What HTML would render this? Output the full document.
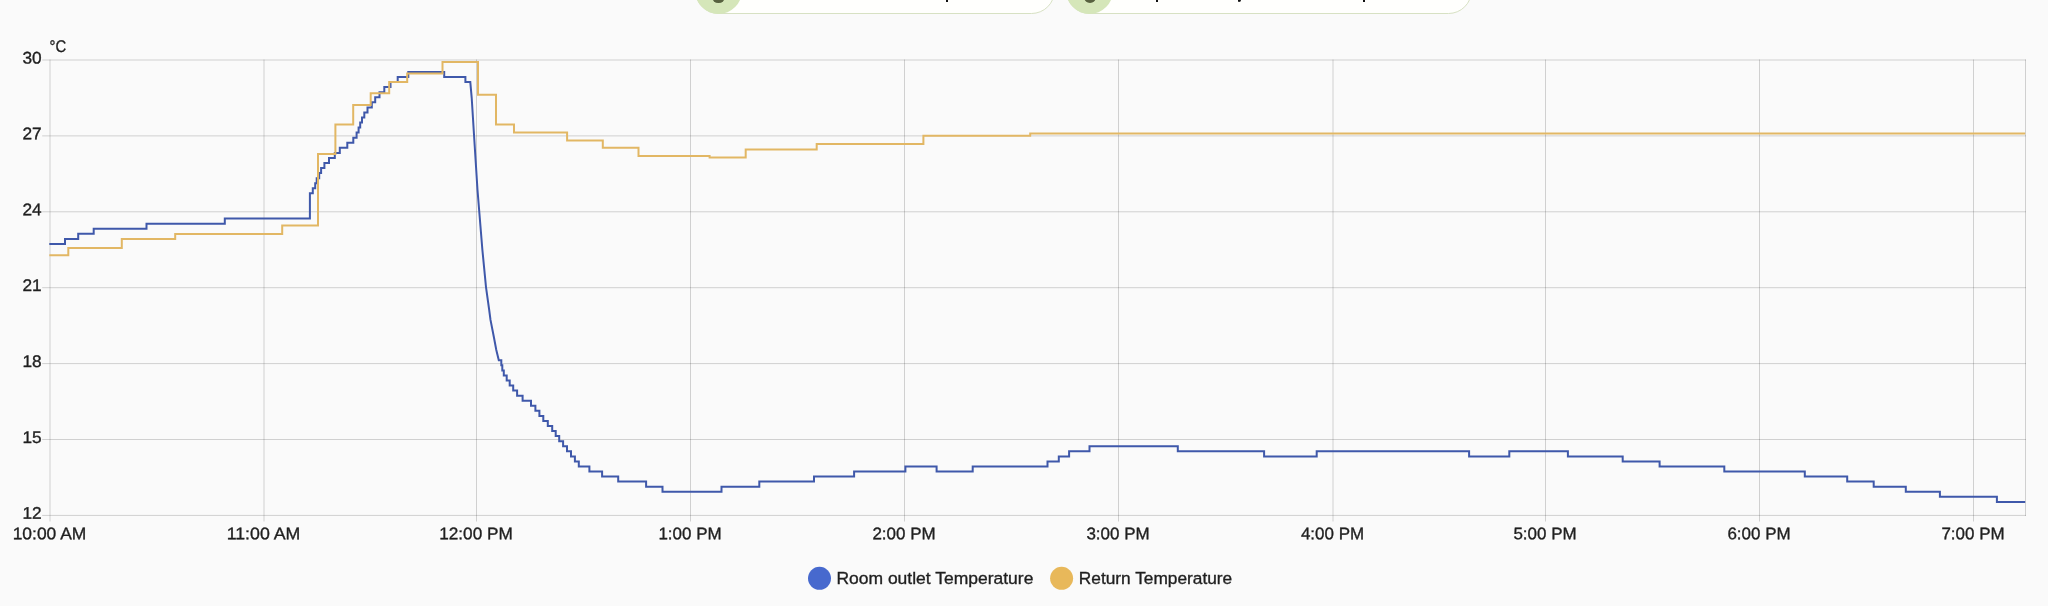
<!DOCTYPE html>
<html>
<head>
<meta charset="utf-8">
<title>History</title>
<style>
html, body { margin: 0; padding: 0; }
body { width: 2048px; height: 606px; background: #fafafa; overflow: hidden; position: relative;
  font-family: "Liberation Sans", sans-serif; }
svg { position: absolute; left: 0; top: 0; display: block; will-change: transform; }
text { font-family: "Liberation Sans", sans-serif; font-size: 16.8px; fill: #1f1f1f; stroke: #1f1f1f; stroke-width: 0.35px; }
.chip { position: absolute; top: -33px; height: 47.1px; border: 1.3px solid #d7e1c3; border-radius: 23.6px;
  background: #fffffd; box-sizing: border-box; }
.chip .ic { position: absolute; left: -1.3px; top: -1.3px; width: 47.1px; height: 47.1px; border-radius: 50%; background: #d5e6b9; }
.chip .ic i { position: absolute; left: 17.8px; top: 23.4px; width: 12.6px; height: 12.6px; border-radius: 50%; background: #57613f; }
.d { position: absolute; top: 0; height: 1.6px; background: #111; }
</style>
</head>
<body>
<div class="chip" style="left:694.8px; width:360.3px;"><div class="ic"><i></i></div></div>
<div class="chip" style="left:1066.1px; width:405.5px;"><div class="ic"><i></i></div></div>
<div class="d" style="left:946px; width:2px;"></div>
<div class="d" style="left:1155.5px; width:2px;"></div>
<div class="d" style="left:1237.5px; width:3.3px; height:1.8px; border-radius:0 0 2px 1px;"></div>
<div class="d" style="left:1363.3px; width:2px;"></div>
<svg width="2048" height="606" viewBox="0 0 2048 606">
<g stroke="#000" stroke-opacity="0.17" stroke-width="1" fill="none">
<line x1="50.0" y1="59.5" x2="50.0" y2="521.5"/>
<line x1="264.0" y1="59.5" x2="264.0" y2="521.5"/>
<line x1="476.5" y1="59.5" x2="476.5" y2="521.5"/>
<line x1="690.5" y1="59.5" x2="690.5" y2="521.5"/>
<line x1="904.5" y1="59.5" x2="904.5" y2="521.5"/>
<line x1="1118.5" y1="59.5" x2="1118.5" y2="521.5"/>
<line x1="1333.0" y1="59.5" x2="1333.0" y2="521.5"/>
<line x1="1545.5" y1="59.5" x2="1545.5" y2="521.5"/>
<line x1="1759.5" y1="59.5" x2="1759.5" y2="521.5"/>
<line x1="1973.5" y1="59.5" x2="1973.5" y2="521.5"/>
<line x1="2025.5" y1="59.5" x2="2025.5" y2="515.9"/>
<line x1="42.2" y1="60.0" x2="2026.0" y2="60.0"/>
<line x1="42.2" y1="135.9" x2="2026.0" y2="135.9"/>
<line x1="42.2" y1="211.8" x2="2026.0" y2="211.8"/>
<line x1="42.2" y1="287.7" x2="2026.0" y2="287.7"/>
<line x1="42.2" y1="363.6" x2="2026.0" y2="363.6"/>
<line x1="42.2" y1="439.5" x2="2026.0" y2="439.5"/>
<line x1="42.2" y1="515.4" x2="2026.0" y2="515.4"/>
</g>
<path d="M49.3 243.9 L65.0 243.9 L65.0 238.9 L78.2 238.9 L78.2 233.8 L93.7 233.8 L93.7 228.7 L146.5 228.7 L146.5 223.7 L224.8 223.7 L224.8 218.6 L309.9 218.6 L309.9 193.3 L312.8 193.3 L312.8 188.3 L315.2 188.3 L315.2 183.2 L316.7 183.2 L316.7 178.2 L319.2 178.2 L319.2 173.1 L321.1 173.1 L321.1 168.0 L324.4 168.0 L324.4 163.0 L329.0 163.0 L329.0 157.9 L334.8 157.9 L334.8 152.9 L339.8 152.9 L339.8 147.8 L347.3 147.8 L347.3 142.8 L353.3 142.8 L353.3 137.7 L356.6 137.7 L356.6 132.6 L358.6 132.6 L358.6 127.6 L360.2 127.6 L360.2 122.5 L362.0 122.5 L362.0 117.5 L364.3 117.5 L364.3 112.4 L367.5 112.4 L367.5 107.4 L371.8 107.4 L371.8 102.3 L375.2 102.3 L375.2 97.2 L379.5 97.2 L379.5 92.2 L384.3 92.2 L384.3 87.1 L390.5 87.1 L390.5 82.1 L397.7 82.1 L397.7 77.0 L408.3 77.0 L408.3 71.9 L444.2 71.9 L444.2 77.0 L465.4 77.0 L465.4 82.1 L470.3 82.1 L471.7 97.8 L473.7 130.0 L477.5 190.0 L482.4 250.0 L486.0 287.1 L489.2 310.0 L490.5 319.9 L494.0 337.7 L496.3 350.0 L498.8 360.3 L498.8 360.3 L501.3 360.3 L501.3 365.3 L502.3 365.3 L502.3 370.4 L503.8 370.4 L503.8 375.4 L506.7 375.4 L506.7 380.5 L509.7 380.5 L509.7 385.5 L513.2 385.5 L513.2 390.6 L517.1 390.6 L517.1 395.7 L522.6 395.7 L522.6 400.7 L531.0 400.7 L531.0 405.8 L535.4 405.8 L535.4 410.8 L539.4 410.8 L539.4 415.9 L543.3 415.9 L543.3 420.9 L547.8 420.9 L547.8 426.0 L552.2 426.0 L552.2 431.1 L555.7 431.1 L555.7 436.1 L559.2 436.1 L559.2 441.2 L563.1 441.2 L563.1 446.2 L567.0 446.2 L567.0 451.3 L571.0 451.3 L571.0 456.4 L574.9 456.4 L574.9 461.4 L578.8 461.4 L578.8 466.5 L589.4 466.5 L589.4 471.5 L602.1 471.5 L602.1 476.6 L618.2 476.6 L618.2 481.6 L646.1 481.6 L646.1 486.7 L662.5 486.7 L662.5 491.8 L721.5 491.8 L721.5 486.7 L759.3 486.7 L759.3 481.6 L814.0 481.6 L814.0 476.6 L854.1 476.6 L854.1 471.5 L905.4 471.5 L905.4 466.5 L936.6 466.5 L936.6 471.5 L972.7 471.5 L972.7 466.5 L1047.5 466.5 L1047.5 461.4 L1058.8 461.4 L1058.8 456.4 L1069.1 456.4 L1069.1 451.3 L1089.5 451.3 L1089.5 446.2 L1177.8 446.2 L1177.8 451.3 L1264.1 451.3 L1264.1 456.4 L1316.7 456.4 L1316.7 451.3 L1469.1 451.3 L1469.1 456.4 L1509.3 456.4 L1509.3 451.3 L1567.9 451.3 L1567.9 456.4 L1622.7 456.4 L1622.7 461.4 L1659.6 461.4 L1659.6 466.5 L1724.3 466.5 L1724.3 471.5 L1804.8 471.5 L1804.8 476.6 L1847.2 476.6 L1847.2 481.6 L1873.7 481.6 L1873.7 486.7 L1905.8 486.7 L1905.8 491.8 L1939.9 491.8 L1939.9 496.8 L1996.9 496.8 L1996.9 501.9 L2025.2 501.9" fill="none" stroke="#3f58aa" stroke-width="2" stroke-linejoin="miter"/>
<path d="M49.3 255.2 L68.3 255.2 L68.3 247.9 L121.8 247.9 L121.8 239.0 L175.2 239.0 L175.2 233.9 L282.2 233.9 L282.2 225.5 L318.0 225.5 L318.0 154.1 L335.4 154.1 L335.4 124.6 L353.2 124.6 L353.2 104.9 L370.7 104.9 L370.7 93.3 L389.2 93.3 L389.2 82.1 L407.2 82.1 L407.2 73.6 L442.5 73.6 L442.5 62.1 L478.0 62.1 L478.0 94.7 L496.0 94.7 L496.0 124.5 L514.0 124.5 L514.0 132.6 L567.1 132.6 L567.1 140.6 L602.8 140.6 L602.8 147.8 L638.5 147.8 L638.5 156.1 L709.6 156.1 L709.6 157.6 L745.7 157.6 L745.7 149.4 L816.7 149.4 L816.7 144.0 L923.4 144.0 L923.4 135.7 L1030.2 135.7 L1030.2 133.4 L2025.2 133.4" fill="none" stroke="#e2b764" stroke-width="2" stroke-linejoin="miter"/>
<g>
<text x="49.6" y="52" transform="rotate(0.03 49.6 52)" textLength="16.6" lengthAdjust="spacingAndGlyphs">°C</text>
<text x="41.6" y="63.4" transform="rotate(0.03 41.6 63.4)" text-anchor="end" textLength="19.2" lengthAdjust="spacingAndGlyphs">30</text>
<text x="41.6" y="139.3" transform="rotate(0.03 41.6 139.3)" text-anchor="end" textLength="19.2" lengthAdjust="spacingAndGlyphs">27</text>
<text x="41.6" y="215.2" transform="rotate(0.03 41.6 215.2)" text-anchor="end" textLength="19.2" lengthAdjust="spacingAndGlyphs">24</text>
<text x="41.6" y="291.1" transform="rotate(0.03 41.6 291.1)" text-anchor="end" textLength="19.2" lengthAdjust="spacingAndGlyphs">21</text>
<text x="41.6" y="367.0" transform="rotate(0.03 41.6 367.0)" text-anchor="end" textLength="19.2" lengthAdjust="spacingAndGlyphs">18</text>
<text x="41.6" y="442.9" transform="rotate(0.03 41.6 442.9)" text-anchor="end" textLength="19.2" lengthAdjust="spacingAndGlyphs">15</text>
<text x="41.6" y="518.8" transform="rotate(0.03 41.6 518.8)" text-anchor="end" textLength="19.2" lengthAdjust="spacingAndGlyphs">12</text>
<text x="49.5" y="539.3" transform="rotate(0.03 49.5 539.3)" text-anchor="middle" textLength="73.6" lengthAdjust="spacingAndGlyphs">10:00 AM</text>
<text x="263.5" y="539.3" transform="rotate(0.03 263.5 539.3)" text-anchor="middle" textLength="73.6" lengthAdjust="spacingAndGlyphs">11:00 AM</text>
<text x="476.0" y="539.3" transform="rotate(0.03 476.0 539.3)" text-anchor="middle" textLength="73.6" lengthAdjust="spacingAndGlyphs">12:00 PM</text>
<text x="690.0" y="539.3" transform="rotate(0.03 690.0 539.3)" text-anchor="middle" textLength="63.2" lengthAdjust="spacingAndGlyphs">1:00 PM</text>
<text x="904.0" y="539.3" transform="rotate(0.03 904.0 539.3)" text-anchor="middle" textLength="63.2" lengthAdjust="spacingAndGlyphs">2:00 PM</text>
<text x="1118.0" y="539.3" transform="rotate(0.03 1118.0 539.3)" text-anchor="middle" textLength="63.2" lengthAdjust="spacingAndGlyphs">3:00 PM</text>
<text x="1332.5" y="539.3" transform="rotate(0.03 1332.5 539.3)" text-anchor="middle" textLength="63.2" lengthAdjust="spacingAndGlyphs">4:00 PM</text>
<text x="1545.0" y="539.3" transform="rotate(0.03 1545.0 539.3)" text-anchor="middle" textLength="63.2" lengthAdjust="spacingAndGlyphs">5:00 PM</text>
<text x="1759.0" y="539.3" transform="rotate(0.03 1759.0 539.3)" text-anchor="middle" textLength="63.2" lengthAdjust="spacingAndGlyphs">6:00 PM</text>
<text x="1973.0" y="539.3" transform="rotate(0.03 1973.0 539.3)" text-anchor="middle" textLength="63.2" lengthAdjust="spacingAndGlyphs">7:00 PM</text>
</g>
<circle cx="819.5" cy="578.3" r="11.5" fill="#4769ce"/>
<text x="836.4" y="584.2" transform="rotate(0.02 836.4 584.2)" textLength="197" lengthAdjust="spacingAndGlyphs">Room outlet Temperature</text>
<circle cx="1061.6" cy="578.3" r="11.5" fill="#e8b85a"/>
<text x="1078.8" y="584.2" transform="rotate(0.02 1078.8 584.2)" textLength="153.4" lengthAdjust="spacingAndGlyphs">Return Temperature</text>
</svg>
</body>
</html>
